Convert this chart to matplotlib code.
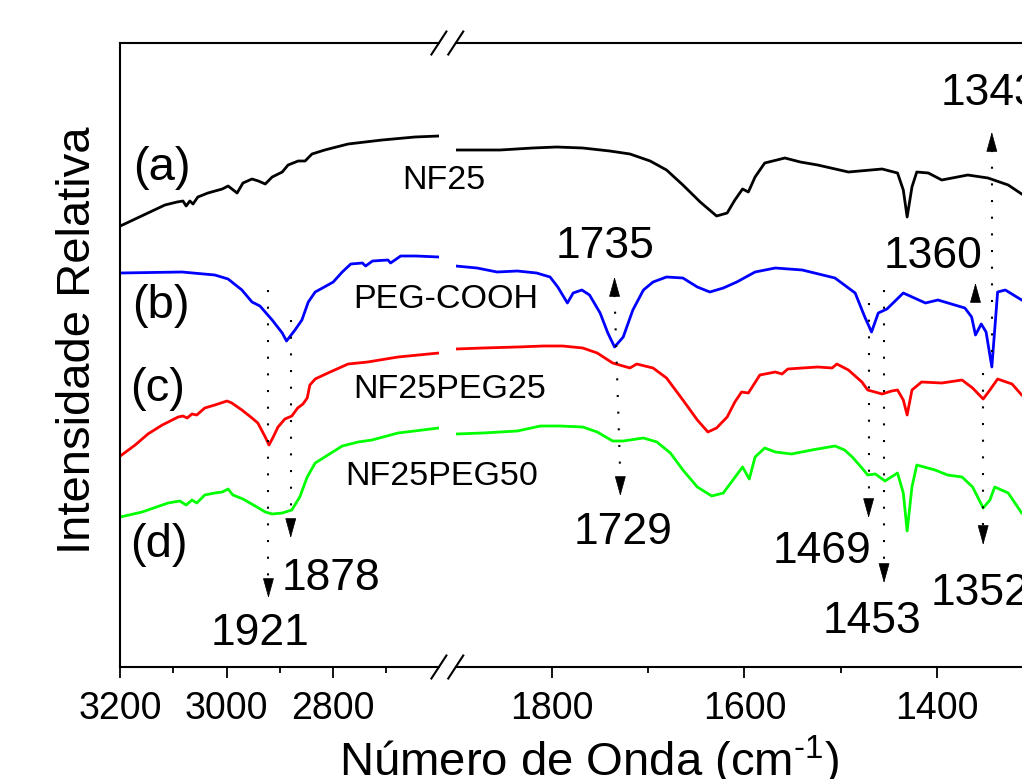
import matplotlib
matplotlib.use('Agg')
import matplotlib.pyplot as plt

plt.rcParams['font.family'] = ['Liberation Sans', 'DejaVu Sans']
plt.rcParams['mathtext.fontset'] = 'custom'
plt.rcParams['mathtext.rm'] = 'Liberation Sans'
plt.rcParams['mathtext.it'] = 'Liberation Sans:italic'
plt.rcParams['mathtext.bf'] = 'Liberation Sans:bold'

# ---------------- data (wavenumber in cm-1, relative intensity in a.u. incl. offsets) ----------------
# (a) NF25
wn_a_hi = [3200, 3172, 3148, 3116, 3093, 3082, 3076, 3069, 3063, 3054, 3035, 3008, 2997, 2980, 2969,
           2952, 2940, 2927, 2914, 2895, 2884, 2865, 2852, 2839, 2815, 2771, 2707, 2645, 2600]
int_a_hi = [441, 448, 454, 462, 465, 466, 461, 466, 463, 470, 474, 478, 481, 474, 484,
            488, 486, 483, 490, 495, 502, 506, 506, 513, 517, 523, 527, 530, 531]
wn_a_lo = [1900, 1854, 1820, 1795, 1768, 1740, 1719, 1698, 1681, 1664, 1646, 1629, 1618, 1610, 1602,
           1596, 1589, 1579, 1558, 1542, 1524, 1492, 1457, 1441, 1435, 1431, 1426, 1421, 1409, 1395,
           1368, 1347, 1326, 1312, 1290]
int_a_lo = [517, 517, 519, 520, 519, 516, 513, 506, 497, 482, 465, 451, 454, 467, 478,
            475, 490, 504, 509, 505, 502, 495, 498, 494, 477, 450, 480, 495, 494, 487,
            492, 489, 482, 473, 460]

# (b) PEG-COOH
wn_b_hi = [3200, 3084, 3022, 2997, 2971, 2952, 2937, 2914, 2895, 2887, 2871, 2858, 2846, 2833, 2809,
           2799, 2782, 2766, 2744, 2738, 2725, 2696, 2691, 2672, 2643, 2600]
int_b_hi = [394, 395, 392, 388, 377, 365, 361, 347, 334, 326, 337, 347, 365, 375, 382,
            385, 395, 403, 404, 401, 406, 407, 404, 411, 411, 410]
wn_b_lo = [1900, 1878, 1857, 1836, 1816, 1802, 1794, 1784, 1778, 1769, 1761, 1750, 1742, 1735, 1726,
           1716, 1705, 1695, 1681, 1664, 1649, 1636, 1622, 1608, 1589, 1568, 1540, 1506, 1485, 1475,
           1468, 1461, 1452, 1435, 1412, 1399, 1371, 1364, 1360, 1354, 1349, 1343, 1337, 1329, 1312, 1290]
int_b_lo = [401, 399, 395, 396, 394, 390, 380, 364, 374, 377, 372, 354, 334, 320, 330,
            357, 377, 385, 390, 389, 380, 375, 379, 385, 395, 399, 397, 389, 374, 350,
            335, 354, 358, 374, 364, 367, 359, 350, 332, 343, 335, 300, 375, 377, 367, 355]

# (c) NF25PEG25
wn_c_hi = [3200, 3172, 3148, 3121, 3091, 3082, 3074, 3065, 3056, 3041, 3022, 2999, 2990, 2971, 2952,
           2941, 2927, 2920, 2912, 2903, 2890, 2877, 2866, 2856, 2848, 2843, 2833, 2809, 2771, 2734,
           2677, 2600]
int_c_hi = [211, 222, 233, 242, 250, 251, 249, 253, 252, 259, 262, 266, 264, 257, 249,
            244, 230, 222, 230, 240, 248, 251, 259, 263, 269, 282, 288, 294, 303, 305,
            310, 314]
wn_c_lo = [1900, 1872, 1836, 1809, 1789, 1768, 1753, 1737, 1719, 1712, 1695, 1681, 1664, 1649, 1638,
           1629, 1618, 1610, 1603, 1596, 1584, 1568, 1561, 1555, 1540, 1524, 1509, 1504, 1492, 1478,
           1472, 1457, 1447, 1441, 1435, 1431, 1426, 1416, 1395, 1374, 1363, 1352, 1345, 1337, 1322,
           1312, 1290]
int_c_lo = [318, 319, 320, 321, 321, 319, 314, 304, 299, 303, 299, 289, 267, 247, 235,
            239, 250, 265, 275, 274, 292, 295, 293, 298, 299, 300, 299, 303, 297, 285,
            277, 273, 276, 277, 267, 252, 277, 285, 284, 287, 279, 268, 277, 288, 283,
            272, 260]

# (d) NF25PEG50
wn_d_hi = [3200, 3159, 3110, 3088, 3076, 3065, 3056, 3041, 3022, 3008, 2997, 2988, 2969, 2946, 2927,
           2914, 2895, 2877, 2862, 2848, 2833, 2815, 2782, 2752, 2726, 2677, 2600]
int_d_hi = [150, 155, 164, 166, 162, 167, 164, 172, 174, 175, 178, 172, 168, 161, 155,
            153, 154, 157, 170, 190, 204, 210, 221, 225, 227, 234, 239]
wn_d_lo = [1900, 1872, 1836, 1812, 1792, 1768, 1753, 1737, 1726, 1705, 1691, 1677, 1664, 1649, 1634,
           1622, 1612, 1602, 1595, 1589, 1579, 1568, 1551, 1530, 1506, 1496, 1488, 1478, 1472, 1464,
           1454, 1441, 1435, 1431, 1426, 1421, 1402, 1389, 1374, 1363, 1352, 1345, 1340, 1326, 1312, 1290]
int_d_lo = [233, 234, 236, 241, 241, 240, 235, 226, 226, 229, 225, 214, 197, 180, 171,
            174, 187, 200, 188, 210, 219, 215, 213, 217, 221, 217, 210, 199, 192, 193,
            186, 194, 174, 136, 180, 202, 197, 192, 190, 180, 159, 167, 180, 174, 154, 140]

sample_names = ['NF25', 'PEG-COOH', 'NF25PEG25', 'NF25PEG50']
sample_letters = ['(a)', '(b)', '(c)', '(d)']
colors = ['#000000', '#0000ff', '#ff0000', '#00ff00']

# peak annotations
guides_hi = [(2921, 377, 2921, 87), (2879, 347, 2879, 146)]
guides_lo = [(1735, 372, 1729, 189), (1471, 364, 1471, 165), (1455, 377, 1455, 102),
             (1343, 517, 1343, 300), (1352, 294, 1352, 139)]
arrows_hi = [(2921, 69, 'down'), (2879, 129, 'down')]
arrows_lo = [(1735, 390, 'up'), (1729, 171, 'down'), (1471, 149, 'down'), (1455, 84, 'down'),
             (1360, 384, 'up'), (1343, 535, 'up'), (1352, 122, 'down')]
peak_text_hi = [('1921', 2937, 22), ('1878', 2803, 77)]
peak_text_lo = [('1735', 1745, 409), ('1729', 1726, 123), ('1469', 1519, 104), ('1453', 1467, 34),
                ('1360', 1404, 399), ('1343', 1345, 562), ('1352', 1355, 62)]
name_pos = [(2590, 478), (2587, 359), (2579, 269), (2595, 182)]
letter_pos = [(3176, 487), (3178, 349), (3182, 266), (3182, 110)]

# ---------------- figure ----------------
W, H = 1022, 779
fig = plt.figure(figsize=(W / 100, H / 100), dpi=100)
bot = (H - 667) / H
hgt = 624 / H
ax1 = fig.add_axes([120.3 / W, bot, 318.6 / W, hgt])
ax2 = fig.add_axes([455.75 / W, bot, 625.6 / W, hgt])
ax2.set_facecolor('none')

hi = [(wn_a_hi, int_a_hi), (wn_b_hi, int_b_hi), (wn_c_hi, int_c_hi), (wn_d_hi, int_d_hi)]
lo = [(wn_a_lo, int_a_lo), (wn_b_lo, int_b_lo), (wn_c_lo, int_c_lo), (wn_d_lo, int_d_lo)]
for (x1, y1), (x2, y2), c in zip(hi, lo, colors):
    ax1.plot(x1, y1, color=c, lw=2.0, solid_joinstyle='round')
    ax2.plot(x2, y2, color=c, lw=2.0, solid_joinstyle='round')

ax1.set_xlim(3200, 2600)
ax2.set_xlim(1900, 1250)
for ax in (ax1, ax2):
    ax.set_ylim(0, 624)
    ax.set_yticks([])
    for s in ax.spines.values():
        s.set_linewidth(1.5)
    ax.tick_params(axis='x', which='major', direction='out', length=8, width=1.3,
                   labelsize=27, pad=9.0)
    ax.tick_params(axis='x', which='minor', direction='out', length=4.5, width=1.3)
ax1.spines['right'].set_visible(False)
ax2.spines['left'].set_visible(False)
ax1.set_xticks([3200, 3000, 2800])
ax1.set_xticks([3100, 2900, 2700], minor=True)
ax2.set_xticks([1800, 1600, 1400])
ax2.set_xticks([1700, 1500, 1300], minor=True)

# break marks
dx1, dy = 7.5 / 318.6, 11.5 / 624
dx2 = 7.5 / 625.6
for yy in (0, 1):
    ax1.plot([1 - dx1, 1 + dx1], [yy - dy, yy + dy], transform=ax1.transAxes,
             color='k', lw=1.5, clip_on=False)
    ax2.plot([-dx2, dx2], [yy - dy, yy + dy], transform=ax2.transAxes,
             color='k', lw=1.5, clip_on=False)

# dotted guides
for ax, guides in ((ax1, guides_hi), (ax2, guides_lo)):
    for x0, y0, x1_, y1_ in guides:
        ax.plot([x0, x1_], [y0, y1_], color='k', lw=1.5, linestyle=(0, (1, 7)),
                dash_capstyle='butt')

# arrow heads
for ax, arrows in ((ax1, arrows_hi), (ax2, arrows_lo)):
    for x, y, d in arrows:
        off = 13 if d == 'down' else -13
        ax.annotate('', xy=(x, y), xytext=(0, off), textcoords='offset points',
                    arrowprops=dict(arrowstyle='-|>,head_length=1.3,head_width=0.36',
                                    mutation_scale=10, color='k', lw=0.5,
                                    shrinkA=0, shrinkB=0))

# peak numbers
for ax, texts in ((ax1, peak_text_hi), (ax2, peak_text_lo)):
    for t, x, y in texts:
        ax.text(x, y, t, fontsize=32, ha='center', va='baseline')

# sample names and letters
for name, (x, y) in zip(sample_names, name_pos):
    ax1.text(x, y, name, fontsize=24.5, ha='center', va='baseline', clip_on=False)
for lab, (x, y) in zip(sample_letters, letter_pos):
    ax1.text(x, y, lab, fontsize=34, ha='left', va='baseline')

# axis labels
fig.text(90 / W, 1 - 340 / H, 'Intensidade Relativa', fontsize=34, rotation=90,
         rotation_mode='anchor', ha='center', va='baseline')
fig.text(589 / W, 1 - 776 / H, r'Número de Onda (cm$^{\text{-}1}$)', fontsize=34,
         ha='center', va='baseline')

fig.savefig('out.png', dpi=100)
